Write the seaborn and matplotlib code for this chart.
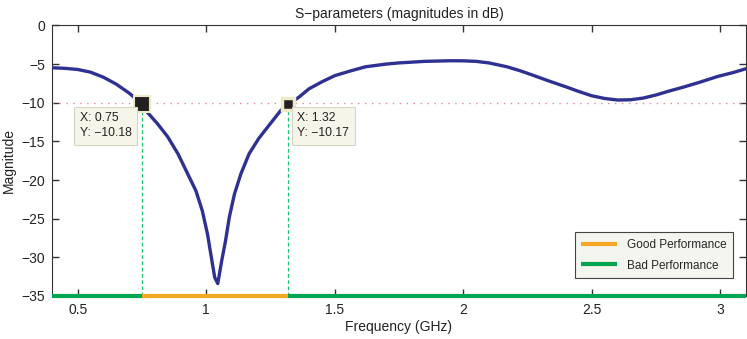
import numpy as np
import pandas as pd
import matplotlib
matplotlib.use("Agg")
import matplotlib.pyplot as plt
import seaborn as sns

# ---- data ----
freq = [0.40, 0.45, 0.50, 0.55, 0.60, 0.65, 0.70, 0.75, 0.77, 0.81, 0.85, 0.89,
        0.925, 0.96, 0.985, 1.005, 1.02, 1.033, 1.045, 1.06, 1.075, 1.09, 1.11,
        1.135, 1.167, 1.205, 1.245, 1.29, 1.32, 1.36, 1.40, 1.45, 1.50, 1.56,
        1.62, 1.70, 1.75, 1.85, 1.95, 2.00, 2.05, 2.10, 2.17, 2.22, 2.27, 2.33,
        2.40, 2.45, 2.50, 2.55, 2.60, 2.65, 2.70, 2.75, 2.80, 2.86, 2.92, 2.99,
        3.05, 3.10]
magnitude = [-5.48, -5.55, -5.70, -6.05, -6.70, -7.60, -8.75, -10.18, -11.2, -12.7,
             -14.4, -16.6, -19.0, -21.4, -24.0, -27.0, -30.0, -32.6, -33.4, -30.5,
             -27.9, -24.8, -21.8, -19.2, -16.6, -14.6, -12.9, -11.0, -10.17, -9.3,
             -8.2, -7.3, -6.5, -5.9, -5.35, -5.0, -4.85, -4.65, -4.57, -4.58,
             -4.65, -4.85, -5.35, -5.85, -6.43, -7.15, -7.95, -8.55, -9.1, -9.45,
             -9.65, -9.62, -9.4, -9.0, -8.5, -7.95, -7.35, -6.6, -6.1, -5.6]

tip_x = [0.75, 1.32]
tip_y = [-10.18, -10.17]
tip_labels = ["X: 0.75\nY: \u221210.18", "X: 1.32\nY: \u221210.17"]
threshold = -10
band_bad_left = [0.40, 0.75]
band_good = [0.75, 1.32]
band_bad_right = [1.32, 3.10]
band_level = -35
x_ticks = [0.5, 1, 1.5, 2, 2.5, 3]
x_ticklabels = ["0.5", "1", "1.5", "2", "2.5", "3"]
y_ticks = [0, -5, -10, -15, -20, -25, -30, -35]
y_ticklabels = ["0", "\u22125", "\u221210", "\u221215", "\u221220", "\u221225", "\u221230", "\u221235"]

df = pd.DataFrame({"freq": freq, "mag": magnitude})

sns.set_style("ticks")
plt.rcParams['font.family'] = ['Liberation Sans', 'DejaVu Sans']
plt.rcParams['xtick.direction'] = 'in'
plt.rcParams['ytick.direction'] = 'in'
plt.rcParams['xtick.top'] = True
plt.rcParams['ytick.right'] = True

fig = plt.figure(figsize=(7.47, 3.39), dpi=100)
ax = fig.add_axes([0.0696, 0.127, 0.929, 0.798])

BLUE = "#2e3192"
ORANGE = "#f7a823"
GREEN = "#00a651"

# threshold line
ax.axhline(threshold, color="#e8879a", lw=1.0, ls=(0, (1, 4)), zorder=1)
# vertical drop lines
for xv, yv in zip(tip_x, tip_y):
    ax.plot([xv, xv], [band_level, yv], color="#1ec36a", lw=0.9, ls=(0, (3, 2)), zorder=1)

sns.lineplot(data=df, x="freq", y="mag", ax=ax, color=BLUE, lw=2.4, zorder=3)
for ln in ax.get_lines():
    ln.set_solid_joinstyle("round")

# performance bands
ax.plot(band_bad_left, [band_level, band_level], color=GREEN, lw=3.0, zorder=4,
        solid_capstyle="butt", clip_on=False)
ax.plot(band_good, [band_level, band_level], color=ORANGE, lw=3.0, zorder=4,
        solid_capstyle="butt", label="Good Performance", clip_on=False)
ax.plot(band_bad_right, [band_level, band_level], color=GREEN, lw=3.0, zorder=4,
        solid_capstyle="butt", label="Bad Performance", clip_on=False)

# data tip markers
ax.plot(tip_x[0], tip_y[0], marker="s", ms=11, mfc="#231f20", mec="#efeac6", mew=1.5, zorder=6)
ax.plot(tip_x[1], tip_y[1], marker="s", ms=9, mfc="#231f20", mec="#efeac6", mew=2.5, zorder=6)

offsets = [(-62, -8), (9, -8)]
for xv, yv, lab, off in zip(tip_x, tip_y, tip_labels, offsets):
    ax.annotate(lab, xy=(xv, yv), xytext=off, textcoords="offset pixels",
                ha="left", va="top", fontsize=8.8, color="#222222", linespacing=1.35,
                bbox=dict(boxstyle="square,pad=0.45", fc="#f5f5ea", ec="#d5d5c5", lw=0.8),
                zorder=7)

ax.set_xlim(0.4, 3.1)
ax.set_ylim(-35, 0)
ax.set_xticks(x_ticks)
ax.set_xticklabels(x_ticklabels)
ax.set_yticks(y_ticks)
ax.set_yticklabels(y_ticklabels)
ax.tick_params(axis="both", which="major", direction="in", length=5, width=1.0,
               top=True, right=True, bottom=True, left=True,
               labelsize=10, color="#333333", labelcolor="#222222", pad=5)
for s in ax.spines.values():
    s.set_visible(True)
    s.set_color("#333333")
    s.set_linewidth(0.8)

ax.set_xlabel("Frequency (GHz)", fontsize=10, color="#222222", labelpad=2)
ax.set_ylabel("Magnitude", fontsize=10, color="#222222", labelpad=4)
ax.set_title("S\u2212parameters (magnitudes in dB)", fontsize=10, color="#222222", pad=5)

leg = ax.legend(loc="lower right", bbox_to_anchor=(0.982, 0.066), fontsize=8.5,
                frameon=True, fancybox=False, handlelength=3.0, borderpad=0.55,
                labelspacing=0.75, handletextpad=0.9, borderaxespad=0)
leg.get_frame().set_facecolor("#f5f5ef")
leg.get_frame().set_edgecolor("#444444")
leg.get_frame().set_linewidth(0.8)
leg.get_frame().set_alpha(1)

fig.savefig("out.png", dpi=100)
